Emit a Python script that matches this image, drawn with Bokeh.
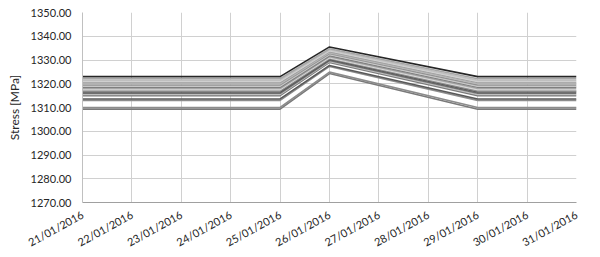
from bokeh.plotting import figure
from bokeh.models import FixedTicker, NumeralTickFormatter, Range1d
from bokeh.embed import file_html
from bokeh.resources import INLINE

dates = ["21/01/2016", "22/01/2016", "23/01/2016", "24/01/2016", "25/01/2016",
         "26/01/2016", "27/01/2016", "28/01/2016", "29/01/2016", "30/01/2016", "31/01/2016"]
sample_dates = ["21/01/2016", "22/01/2016", "23/01/2016", "24/01/2016", "25/01/2016",
                "26/01/2016", "29/01/2016", "30/01/2016", "31/01/2016"]

# each series: values at sample_dates
series = [
    [1309.3, 1309.3, 1309.3, 1309.3, 1309.3, 1324.3, 1309.3, 1309.3, 1309.3],
    [1310.0, 1310.0, 1310.0, 1310.0, 1310.0, 1324.9, 1310.0, 1310.0, 1310.0],
    [1313.0, 1313.0, 1313.0, 1313.0, 1313.0, 1327.3, 1313.0, 1313.0, 1313.0],
    [1313.6, 1313.6, 1313.6, 1313.6, 1313.6, 1327.7, 1313.6, 1313.6, 1313.6],
    [1315.0, 1315.0, 1315.0, 1315.0, 1315.0, 1329.0, 1315.0, 1315.0, 1315.0],
    [1315.5, 1315.5, 1315.5, 1315.5, 1315.5, 1329.4, 1315.5, 1315.5, 1315.5],
    [1316.0, 1316.0, 1316.0, 1316.0, 1316.0, 1329.8, 1316.0, 1316.0, 1316.0],
    [1316.5, 1316.5, 1316.5, 1316.5, 1316.5, 1330.2, 1316.5, 1316.5, 1316.5],
    [1317.0, 1317.0, 1317.0, 1317.0, 1317.0, 1330.6, 1317.0, 1317.0, 1317.0],
    [1317.5, 1317.5, 1317.5, 1317.5, 1317.5, 1331.0, 1317.5, 1317.5, 1317.5],
    [1318.0, 1318.0, 1318.0, 1318.0, 1318.0, 1331.4, 1318.0, 1318.0, 1318.0],
    [1318.5, 1318.5, 1318.5, 1318.5, 1318.5, 1331.8, 1318.5, 1318.5, 1318.5],
    [1319.0, 1319.0, 1319.0, 1319.0, 1319.0, 1332.3, 1319.0, 1319.0, 1319.0],
    [1319.5, 1319.5, 1319.5, 1319.5, 1319.5, 1332.7, 1319.5, 1319.5, 1319.5],
    [1320.0, 1320.0, 1320.0, 1320.0, 1320.0, 1333.1, 1320.0, 1320.0, 1320.0],
    [1320.5, 1320.5, 1320.5, 1320.5, 1320.5, 1333.5, 1320.5, 1320.5, 1320.5],
    [1321.0, 1321.0, 1321.0, 1321.0, 1321.0, 1333.9, 1321.0, 1321.0, 1321.0],
    [1321.5, 1321.5, 1321.5, 1321.5, 1321.5, 1334.3, 1321.5, 1321.5, 1321.5],
    [1322.1, 1322.1, 1322.1, 1322.1, 1322.1, 1334.7, 1322.1, 1322.1, 1322.1],
    [1323.0, 1323.0, 1323.0, 1323.0, 1323.0, 1335.5, 1323.0, 1323.0, 1323.0],
]
colors = ["#7a7a7a", "#8c8c8c", "#8c8c8c", "#595959", "#7a7a7a", "#bfbfbf",
          "#6e6e6e", "#595959", "#8c8c8c", "#d9d9d9", "#a6a6a6", "#7f7f7f",
          "#c8c8c8", "#909090", "#b8b8b8", "#a0a0a0", "#d0d0d0", "#bfbfbf",
          "#a6a6a6", "#262626"]

y_ticks = [1270, 1280, 1290, 1300, 1310, 1320, 1330, 1340, 1350]

xs = [dates.index(d) for d in sample_dates]

p = figure(width=600, height=257, output_backend="svg", toolbar_location=None,
           x_range=Range1d(0, len(dates) - 1), y_range=Range1d(1270, 1350),
           min_border_left=82, min_border_right=24, min_border_top=12,
           min_border_bottom=55)
p.outline_line_color = None

for vals, c in zip(series, colors):
    p.line(xs, vals, line_color=c, line_width=1.6)

p.xaxis.ticker = FixedTicker(ticks=list(range(len(dates))))
p.xaxis.major_label_overrides = {i: d for i, d in enumerate(dates)}
p.xaxis.major_label_orientation = 0.5
p.yaxis.ticker = FixedTicker(ticks=y_ticks)
p.yaxis.formatter = NumeralTickFormatter(format="0.00")
p.yaxis.axis_label = "Stress [MPa]"

for ax in (p.xaxis, p.yaxis):
    ax.major_label_text_font = "Lato"
    ax.major_label_text_font_size = "11px"
    ax.major_label_text_color = "#262626"
    ax.major_tick_line_color = None
    ax.minor_tick_line_color = None
p.yaxis.axis_line_color = "#c0c0c0"
p.xaxis.axis_line_color = "#a0a0a0"
p.yaxis.axis_label_text_font = "Lato"
p.yaxis.axis_label_text_font_size = "12px"
p.yaxis.axis_label_text_color = "#262626"
p.yaxis.axis_label_text_font_style = "normal"
p.yaxis.axis_label_standoff = 6

p.xgrid.grid_line_color = "#d0d0d0"
p.ygrid.grid_line_color = "#d0d0d0"

open("out.html", "w").write(file_html(p, INLINE))
